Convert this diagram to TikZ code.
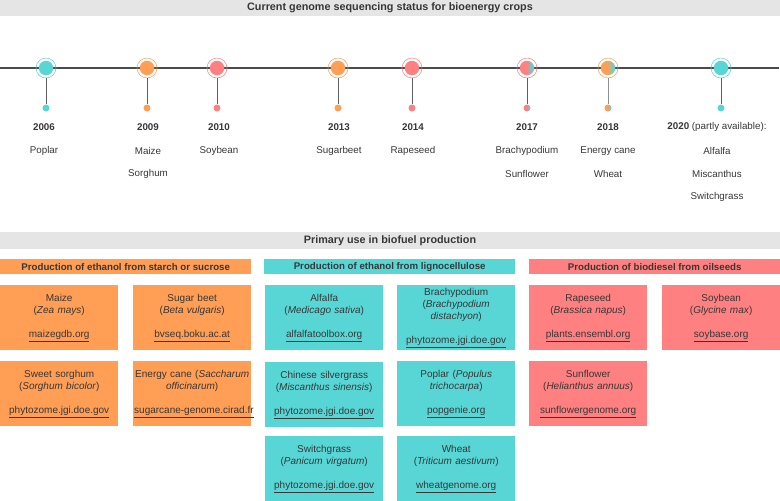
\documentclass[tikz,border=0pt]{standalone}
\usepackage{fontspec}
\setmainfont{Liberation Sans}
\usetikzlibrary{positioning}

\definecolor{cropor}{RGB}{255,158,84}
\definecolor{cropte}{RGB}{88,214,214}
\definecolor{cropre}{RGB}{255,128,128}
\definecolor{bargr}{RGB}{229,229,229}
\definecolor{inkgr}{RGB}{55,55,55}

% half-and-half fills for the mixed years
\pgfdeclarehorizontalshading{reteshade}{100bp}{color(0bp)=(cropre); color(48bp)=(cropre);
  color(70bp)=(cropte); color(100bp)=(cropte)}
\pgfdeclarehorizontalshading{orteshade}{100bp}{color(0bp)=(cropor); color(48bp)=(cropor);
  color(70bp)=(cropte); color(100bp)=(cropte)}

\tikzset{
  greybar/.style={fill=bargr, minimum width=780pt, minimum height=16pt, inner sep=0pt,
    font=\fontsize{10.8}{12}\selectfont\bfseries, text=inkgr},
  cathead/.style={minimum width=251pt, minimum height=15pt, inner sep=0pt, anchor=north west,
    font=\fontsize{9.7}{12}\selectfont\bfseries, text=inkgr},
  cropbox/.style={minimum width=118pt, minimum height=65pt, inner sep=0pt, anchor=north west,
    text width=116pt, align=center, font=\fontsize{10}{12}\selectfont, text=inkgr},
  bigdot/.style={circle, minimum size=14.5pt, inner sep=0pt},
  ring/.style={circle, minimum size=20pt, inner sep=0pt, line width=0.5pt},
  smalldot/.style={circle, minimum size=7pt, inner sep=0pt},
  stem/.style={inkgr!80, line width=0.9pt},
  tline/.style={inkgr!90, line width=1.4pt},
  yearlbl/.style={font=\fontsize{9.8}{12}\selectfont\bfseries, text=inkgr},
  croplbl/.style={font=\fontsize{9.8}{12}\selectfont, text=inkgr}
}

\begin{document}
\begin{tikzpicture}[x=1pt,y=-1pt]
    \useasboundingbox (0,0) rectangle (780,501);

    % timeline
    \node[greybar] (hdrtime) at (390,7.5) {Current genome sequencing status for bioenergy crops};
    \coordinate (tstart) at (0,68);
    \coordinate (tend) at (779,68);
    \draw[tline] (tstart) -- (tend);

    \node[bigdot, fill=cropte] (c06) at (46,68) {};
    \node[ring, draw=cropte] (r06) at (c06) {};
    \node[smalldot, fill=cropte] (d06) at (46,108) {};
    \draw[stem] (r06.south) -- (d06.north);

    \node[bigdot, fill=cropor] (c09) at (147,68) {};
    \node[ring, draw=cropor] (r09) at (c09) {};
    \node[smalldot, fill=cropor] (d09) at (147,108) {};
    \draw[stem] (r09.south) -- (d09.north);

    \node[bigdot, fill=cropre] (c10) at (217,68) {};
    \node[ring, draw=cropre] (r10) at (c10) {};
    \node[smalldot, fill=cropre] (d10) at (217,108) {};
    \draw[stem] (r10.south) -- (d10.north);

    \node[bigdot, fill=cropor] (c13) at (338,68) {};
    \node[ring, draw=cropor] (r13) at (c13) {};
    \node[smalldot, fill=cropor] (d13) at (338,108) {};
    \draw[stem] (r13.south) -- (d13.north);

    \node[bigdot, fill=cropre] (c14) at (412,68) {};
    \node[ring, draw=cropre] (r14) at (c14) {};
    \node[smalldot, fill=cropre] (d14) at (412,108) {};
    \draw[stem] (r14.south) -- (d14.north);

    \node[bigdot, shading=reteshade] (c17) at (527,68) {};
    \node[ring, draw=cropre] (r17) at (c17) {};
    \node[smalldot, shading=reteshade] (d17) at (527,108) {};
    \draw[stem] (r17.south) -- (d17.north);

    \node[bigdot, shading=orteshade] (c18) at (608,68) {};
    \node[ring, draw=cropor] (r18) at (c18) {};
    \node[smalldot, shading=orteshade] (d18) at (608,108) {};
    \draw[stem, inkgr!55] (r18.south) -- (d18.north);

    \node[bigdot, fill=cropte] (c20) at (721,68) {};
    \node[ring, draw=cropte] (r20) at (c20) {};
    \node[smalldot, fill=cropte] (d20) at (721,108) {};
    \draw[stem] (r20.south) -- (d20.north);

    % years and crops
    \node[yearlbl] (y06) at (44,127) {2006};
    \node[croplbl] (p06) at (44,151) {Poplar};
    \node[yearlbl] (y09) at (148,127) {2009};
    \node[croplbl] (p09a) at (148,151) {Maize};
    \node[croplbl] (p09b) at (148,174) {Sorghum};
    \node[yearlbl] (y10) at (219,127) {2010};
    \node[croplbl] (p10) at (219,151) {Soybean};
    \node[yearlbl] (y13) at (339,127) {2013};
    \node[croplbl] (p13) at (339,151) {Sugarbeet};
    \node[yearlbl] (y14) at (413,127) {2014};
    \node[croplbl] (p14) at (413,151) {Rapeseed};
    \node[yearlbl] (y17) at (527,127) {2017};
    \node[croplbl] (p17a) at (527,151) {Brachypodium};
    \node[croplbl] (p17b) at (527,174) {Sunflower};
    \node[yearlbl] (y18) at (608,127) {2018};
    \node[croplbl] (p18a) at (608,151) {Energy cane};
    \node[croplbl] (p18b) at (608,174) {Wheat};
    \node[croplbl] (y20) at (717,127) {\textbf{2020} (partly available):};
    \node[croplbl] (p20a) at (717,151) {Alfalfa};
    \node[croplbl] (p20b) at (717,174) {Miscanthus};
    \node[croplbl] (p20c) at (717,197) {Switchgrass};

    % primary use
    \node[greybar, minimum height=17pt] (hdruse) at (390,240.5) {Primary use in biofuel production};

    \node[cathead, fill=cropor] (catstarch) at (0,259) {Production of ethanol from starch or sucrose};
    \node[cathead, fill=cropte] (catligno) at (264,259) {Production of ethanol from lignocellulose};
    \node[cathead, fill=cropre] (catoil) at (529,259) {Production of biodiesel from oilseeds};

    \node[cropbox, fill=cropor] (maize) at (0,285) {Maize\\(\textit{Zea mays})\\[12pt]\underline{maizegdb.org}};
    \node[cropbox, fill=cropor] (sugarbeet) at (133,285) {Sugar beet\\(\textit{Beta vulgaris})\\[12pt]\underline{bvseq.boku.ac.at}};
    \node[cropbox, fill=cropor] (sorghum) at (0,361) {Sweet sorghum\\(\textit{Sorghum bicolor})\\[12pt]\underline{phytozome.jgi.doe.gov}};
    \node[cropbox, fill=cropor] (energycane) at (133,361) {Energy cane (\textit{Saccharum}\\\textit{officinarum})\\[12pt]\underline{sugarcane-genome.cirad.fr}};

    \node[cropbox, fill=cropte] (alfalfa) at (265,285) {Alfalfa\\(\textit{Medicago sativa})\\[12pt]\underline{alfalfatoolbox.org}};
    \node[cropbox, fill=cropte] (brachy) at (397,285) {Brachypodium\\(\textit{Brachypodium}\\\textit{distachyon})\\[12pt]\underline{phytozome.jgi.doe.gov}};
    \node[cropbox, fill=cropte] (miscanthus) at (265,362) {Chinese silvergrass\\(\textit{Miscanthus sinensis})\\[12pt]\underline{phytozome.jgi.doe.gov}};
    \node[cropbox, fill=cropte] (poplar) at (397,361) {Poplar (\textit{Populus}\\\textit{trichocarpa})\\[12pt]\underline{popgenie.org}};
    \node[cropbox, fill=cropte] (switchgrass) at (265,436) {Switchgrass\\(\textit{Panicum virgatum})\\[12pt]\underline{phytozome.jgi.doe.gov}};
    \node[cropbox, fill=cropte] (wheat) at (397,436) {Wheat\\(\textit{Triticum aestivum})\\[12pt]\underline{wheatgenome.org}};

    \node[cropbox, fill=cropre] (rapeseed) at (529,285) {Rapeseed\\(\textit{Brassica napus})\\[12pt]\underline{plants.ensembl.org}};
    \node[cropbox, fill=cropre] (soybean) at (662,285) {Soybean\\(\textit{Glycine max})\\[12pt]\underline{soybase.org}};
    \node[cropbox, fill=cropre] (sunflower) at (529,361) {Sunflower\\(\textit{Helianthus annuus})\\[12pt]\underline{sunflowergenome.org}};
\end{tikzpicture}
\end{document}
